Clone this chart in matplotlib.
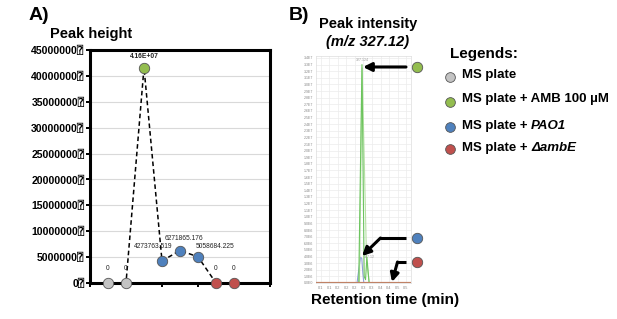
import matplotlib
matplotlib.use("Agg")
import matplotlib.pyplot as plt

W, H = 617, 319
FAM = ['Liberation Sans', 'DejaVu Sans', 'DejaVu Sans Mono']
plt.rcParams['font.family'] = FAM

# ---------------- Panel A data ----------------
a_x = [1, 2, 3, 4, 5, 6, 7, 8]
a_values = [0, 0, 4.16e7, 4273763.519, 6271865.176, 5058684.225, 0, 0]
a_labels = ["0", "0", "4.16E+07", "4273763.519", "6271865.176", "5058684.225", "0", "0"]
a_groups = ["MS plate", "MS plate", "MS plate + AMB 100 µM",
            "MS plate + PAO1", "MS plate + PAO1", "MS plate + PAO1",
            "MS plate + ΔambE", "MS plate + ΔambE"]
a_yticks = [0, 5000000, 10000000, 15000000, 20000000, 25000000,
            30000000, 35000000, 40000000, 45000000]
a_yticklabels = ["0⍰", "5000000⍰", "10000000⍰", "15000000⍰", "20000000⍰",
                 "25000000⍰", "30000000⍰", "35000000⍰", "40000000⍰", "45000000⍰"]

# ---------------- Panel B data ----------------
b_green1_x = [0.02, 0.272, 0.291, 0.304, 0.312, 0.320, 0.333, 0.58]
b_green1_y = [0, 0, 3.3e7, 1.0e6, 0.5e6, 3.9e6, 0, 0]
b_green2_x = [0.02, 0.276, 0.292, 0.318, 0.334, 0.58]
b_green2_y = [0, 0, 3.25e7, 3.4e6, 0, 0]
b_blue_x = [0.02, 0.262, 0.272, 0.283, 0.290, 0.296, 0.302, 0.58]
b_blue_y = [0, 0, 2.0e6, 3.9e6, 3.7e6, 1.5e6, 0, 0]
b_base_x = [0.02, 0.58]
b_base_y = [0, 0]
b_xticks = [0.05, 0.10, 0.15, 0.20, 0.25, 0.30, 0.35, 0.40, 0.45, 0.50, 0.55]
b_xticklabels = ["0.1", "0.1", "0.2", "0.2", "0.2", "0.3", "0.3", "0.4", "0.4", "0.5", "0.5"]
b_yticks = [i * 1e6 for i in range(35)]
b_yticklabels = ["0.0E0", "1.0E6", "2.0E6", "3.0E6", "4.0E6", "5.0E6", "6.0E6",
                 "7.0E6", "8.0E6", "9.0E6", "1.0E7", "1.1E7", "1.2E7", "1.3E7",
                 "1.4E7", "1.5E7", "1.6E7", "1.7E7", "1.8E7", "1.9E7", "2.0E7",
                 "2.1E7", "2.2E7", "2.3E7", "2.4E7", "2.5E7", "2.6E7", "2.7E7",
                 "2.8E7", "2.9E7", "3.0E7", "3.1E7", "3.2E7", "3.3E7", "3.4E7"]

legend_names = ["MS plate", "MS plate + AMB 100 µM", "MS plate + PAO1", "MS plate + ΔambE"]
legend_italic = [None, None, "PAO1", "ΔambE"]
colors = {"MS plate": "#c3c3c3", "MS plate + AMB 100 µM": "#93bd4f",
          "MS plate + PAO1": "#4f81bd", "MS plate + ΔambE": "#c0504d"}
EDGE = "#555555"


def fx(px):
    return px / W


def fy(py):
    return 1 - py / H


fig = plt.figure(figsize=(W / 100, H / 100), dpi=100)

# ================= Panel A =================
axA = fig.add_axes([fx(90), fy(283), 180 / W, 233 / H])
axA.plot(a_x, a_values, color="black", linestyle=(0, (3, 2)), linewidth=1.1, zorder=2)
for xi, vi, g in zip(a_x, a_values, a_groups):
    axA.plot([xi], [vi], marker="o", markersize=7.5, markerfacecolor=colors[g],
             markeredgecolor=EDGE, markeredgewidth=0.6, linestyle="none",
             zorder=3, clip_on=False)
label_offsets = [(0, 14), (0, 14), (0, 11), (-9, 14), (4, 12), (17, 10), (0, 14), (0, 14)]
for xi, vi, lab, off in zip(a_x, a_values, a_labels, label_offsets):
    axA.annotate(lab, (xi, vi), xytext=off, textcoords="offset pixels",
                 ha="center", va="center", fontsize=4.8,
                 fontweight="bold" if lab == "4.16E+07" else "normal", color="#222222")
axA.set_xlim(0, 10)
axA.set_ylim(0, 45000000)
axA.set_xticks([0, 2, 4, 6, 8, 10])
axA.set_xticklabels([])
axA.set_yticks(a_yticks)
axA.set_yticklabels(a_yticklabels, fontsize=7.6, fontweight="bold")
axA.tick_params(axis="both", direction="out", length=3, width=1.4, pad=1)
axA.grid(axis="y", color="#d9d9d9", linewidth=0.8)
axA.set_axisbelow(True)
for s in axA.spines.values():
    s.set_linewidth(2.2)
    s.set_color("black")

fig.text(fx(29), fy(15), "A)", fontsize=14, fontweight="bold", ha="left", va="center")
fig.text(fx(50), fy(34), "Peak height", fontsize=10.5, fontweight="bold", ha="left", va="center")

# ================= Panel B =================
axB = fig.add_axes([fx(316), fy(283), 95 / W, 227 / H])
axB.plot(b_blue_x, b_blue_y, color="#8f9fd8", linewidth=0.8, zorder=3)
axB.plot(b_green2_x, b_green2_y, color="#b7e0a5", linewidth=0.8, zorder=3)
axB.plot(b_green1_x, b_green1_y, color="#6cc45e", linewidth=0.8, zorder=4)
axB.plot(b_base_x, b_base_y, color="#c08266", linewidth=1.6, zorder=5)
axB.text(0.291, 3.34e7, "327.124", fontsize=2.5, color="#999999", ha="center", va="bottom")
axB.text(0.300, 3.95e6, "327.12", fontsize=2.5, color="#999999", ha="left", va="center")
axB.set_xlim(0.0206, 0.5794)
axB.set_ylim(0, 3.43e7)
axB.set_xticks(b_xticks)
axB.set_xticklabels(b_xticklabels, fontsize=2.8, color="#888888")
axB.set_yticks(b_yticks)
axB.set_yticklabels(b_yticklabels, fontsize=2.6, color="#888888")
axB.tick_params(axis="both", length=0, pad=2)
axB.grid(True, color="#ececec", linewidth=0.5)
axB.set_axisbelow(True)
for s in axB.spines.values():
    s.set_linewidth(0.5)
    s.set_color("#dddddd")

fig.text(fx(289), fy(15), "B)", fontsize=14, fontweight="bold", ha="left", va="center")
fig.text(fx(368), fy(24), "Peak intensity", fontsize=10.5, fontweight="bold", ha="center", va="center")
fig.text(fx(368), fy(42), "(m/z 327.12)", fontsize=10.5, fontweight="bold", style="italic",
         ha="center", va="center")
fig.text(fx(385), fy(300), "Retention time (min)", fontsize=11, fontweight="bold",
         ha="center", va="center")

# ================= Overlay: arrows, markers, legend =================
ov = fig.add_axes([0, 0, 1, 1], facecolor="none")
ov.set_xlim(0, W)
ov.set_ylim(H, 0)
ov.axis("off")

side_markers = [(417, 67, "MS plate + AMB 100 µM"), (417, 238, "MS plate + PAO1"),
                (417, 262, "MS plate + ΔambE")]
for mx, my, g in side_markers:
    ov.plot([mx], [my], marker="o", markersize=7.5, markerfacecolor=colors[g],
            markeredgecolor=EDGE, markeredgewidth=0.6)

arrow_kw = dict(arrowstyle="-|>,head_length=0.5,head_width=0.25", color="black", lw=2.2,
                shrinkA=0, shrinkB=0)
ov.annotate("", xy=(363, 67), xytext=(406, 67), arrowprops=arrow_kw)
ov.plot([406, 380], [238, 238], color="black", lw=2.2, solid_capstyle="butt")
ov.annotate("", xy=(362, 256), xytext=(380.5, 238), arrowprops=arrow_kw)
ov.plot([406, 397], [262, 262], color="black", lw=2.2, solid_capstyle="butt")
ov.annotate("", xy=(392, 282), xytext=(397.5, 262), arrowprops=arrow_kw)

fig.text(fx(450), fy(54), "Legends:", fontsize=11, fontweight="bold", ha="left", va="center")
leg_marker_y = [77, 102, 127, 149]
leg_text_y = [75, 99, 126, 148]
fig.canvas.draw()
renderer = fig.canvas.get_renderer()
for name, ital, my, ty in zip(legend_names, legend_italic, leg_marker_y, leg_text_y):
    ov.plot([450], [my], marker="o", markersize=7.0, markerfacecolor=colors[name],
            markeredgecolor=EDGE, markeredgewidth=0.6)
    if ital is None:
        fig.text(fx(462), fy(ty), name, fontsize=9.5, fontweight="bold", ha="left", va="center")
    else:
        t1 = fig.text(fx(462), fy(ty), "MS plate +", fontsize=9.5, fontweight="bold",
                      ha="left", va="center")
        bb = t1.get_window_extent(renderer=renderer)
        x2 = bb.x1 + 3.7
        fig.text(x2 / W, fy(ty), ital, fontsize=9.5, fontweight="bold", style="italic",
                 ha="left", va="center")

fig.savefig("out.png", dpi=100)
